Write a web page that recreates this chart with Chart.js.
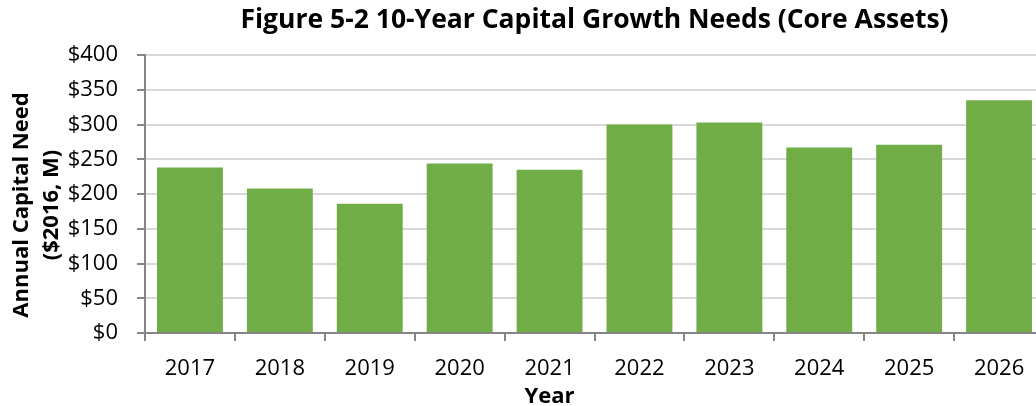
<!DOCTYPE html>
<html>
<head>
<meta charset="utf-8">
<script src="https://cdn.jsdelivr.net/npm/chart.js@4.4.1/dist/chart.umd.min.js"></script>
<style>
html,body{margin:0;padding:0;background:#fff;overflow:hidden;width:1036px;height:406px;}
#wrap{position:relative;width:1050px;height:406px;}
</style>
</head>
<body>
<div id="wrap"><canvas id="c" width="1050" height="406"></canvas></div>
<script>
const categories = ["2017","2018","2019","2020","2021","2022","2023","2024","2025","2026"];
const capitalNeed = [238, 208, 186, 244, 235, 300, 303, 267, 271, 335];
const yTicks = [0, 50, 100, 150, 200, 250, 300, 350, 400];
const chartTitle = "Figure 5-2 10-Year Capital Growth Needs (Core Assets)";
const yTitle = ["Annual Capital Need", "($2016, M)"];
const xTitle = "Year";

const FONT = "'Open Sans', 'DejaVu Sans', sans-serif";

const axisTitles = {
  id: 'axisTitles',
  afterDraw(chart) {
    const ctx = chart.ctx;
    const xs = chart.scales.x;
    const area = chart.chartArea;
    ctx.save();
    ctx.fillStyle = '#000';
    ctx.font = "bold 22px " + FONT;
    ctx.textAlign = 'center';
    ctx.textBaseline = 'alphabetic';
    // x title centred under the middle category
    ctx.fillText(xTitle, xs.getPixelForValue(4), 403);
    // y title rotated
    ctx.translate(0, (area.top + area.bottom) / 2 + 11);
    ctx.rotate(-Math.PI / 2);
    ctx.fillText(yTitle[0], 0, 28);
    ctx.fillText(yTitle[1], 0, 58);
    ctx.restore();
  }
};

new Chart(document.getElementById('c'), {
  type: 'bar',
  data: {
    labels: categories,
    datasets: [{
      data: capitalNeed,
      backgroundColor: '#70AD47',
      borderWidth: 0,
      categoryPercentage: 0.733,
      barPercentage: 1.0
    }]
  },
  options: {
    responsive: false,
    animation: false,
    devicePixelRatio: 1,
    layout: { padding: { left: 0, right: 6, top: 0, bottom: 0 } },
    plugins: {
      legend: { display: false },
      tooltip: { enabled: false },
      title: {
        display: true,
        fullSize: false,
        text: chartTitle,
        color: '#000',
        font: { family: FONT, size: 26.5, weight: 'bold', lineHeight: 1.2 },
        padding: { top: 4.7, bottom: 18.5 }
      }
    },
    scales: {
      x: {
        grid: { display: true, drawOnChartArea: false, drawTicks: true, tickLength: 8, color: '#868686', lineWidth: 2, offset: true },
        border: { display: true, color: '#868686', width: 2 },
        ticks: { color: '#000', font: { family: FONT, size: 22 }, padding: 15, maxRotation: 0 },
        afterFit(s) { s.height = 73; }
      },
      y: {
        min: 0, max: 400,
        afterBuildTicks(s) { s.ticks = yTicks.map(v => ({ value: v })); },
        grid: { color: '#d9d9d9', lineWidth: 2, tickLength: 8, tickColor: '#868686' },
        border: { display: true, color: '#868686', width: 2 },
        ticks: { color: '#000', font: { family: FONT, size: 22 }, padding: 19, callback: v => '$' + v },
        afterFit(s) { s.width = 145; }
      }
    }
  },
  plugins: [axisTitles]
});
</script>
</body>
</html>
